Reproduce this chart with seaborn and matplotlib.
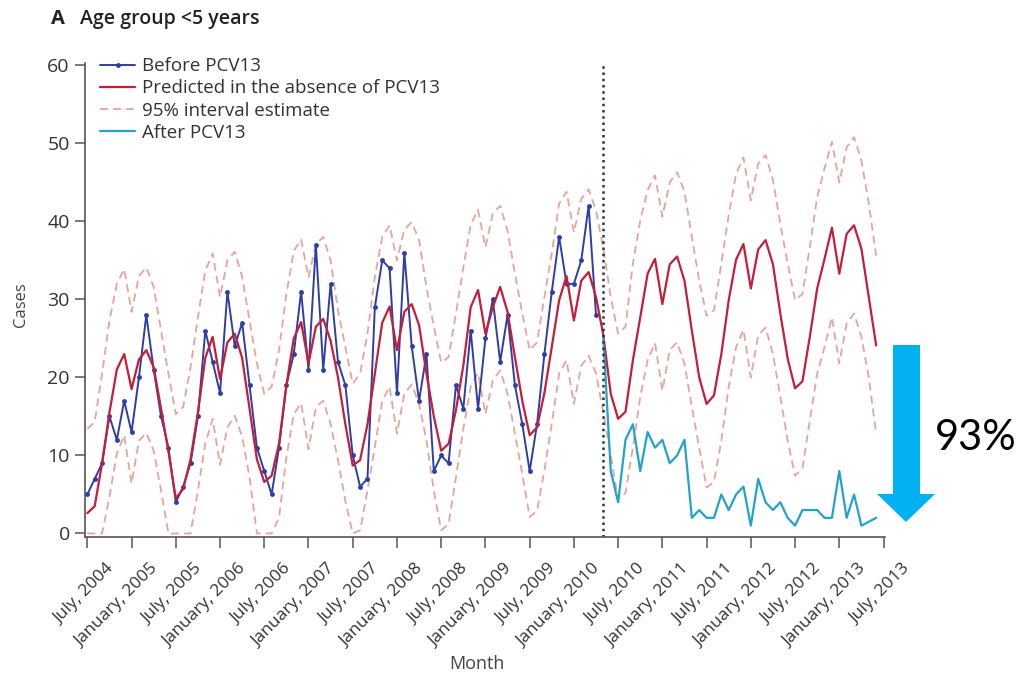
import numpy as np
import pandas as pd
import matplotlib
matplotlib.use('Agg')
import matplotlib.pyplot as plt
import matplotlib.transforms as mtransforms
from matplotlib.patches import Polygon
import seaborn as sns

# monthly counts, month 0 = July 2004
before = [5, 7, 9, 15, 12, 17, 13, 20, 28, 21, 15, 11,
          4, 6, 9, 15, 26, 22, 18, 31, 24, 27, 19, 11,
          8, 5, 11, 19, 23, 31, 21, 37, 21, 32, 22, 19,
          10, 6, 7, 29, 35, 34, 18, 36, 24, 17, 23, 8,
          10, 9, 19, 16, 26, 16, 25, 30, 22, 28, 19, 14,
          8, 14, 23, 31, 38, 32, 32, 35, 42, 28]

after = [25, 8, 4, 12, 14, 8, 13, 11, 12, 9, 10, 12,
         2, 3, 2, 2, 5, 3, 5, 6, 1, 7, 4, 3,
         4, 2, 1, 3, 3, 3, 2, 2, 8, 2, 5, 1, 1.5, 2]

predicted = [2.6, 3.5, 9, 15.5, 21, 23, 18.5, 22.3, 23.5, 21.3, 16, 10.5,
             4.5, 5.7, 9.5, 15.5, 22.5, 25.2, 19.8, 24.5, 25.6, 22.5, 16, 9.5,
             6.6, 7.4, 11.5, 19, 25, 27.1, 21.8, 26.5, 27.5, 24.7, 20, 14,
             8.7, 9.4, 14, 20.5, 27, 29.1, 23.5, 28.4, 29.4, 26.7, 20.5, 15,
             10.6, 11.5, 15.8, 21.5, 29, 31.2, 25.6, 29, 31.6, 28.4, 22.6, 17,
             12.6, 13.6, 18, 23.9, 29.9, 33, 27.3, 32.4, 33.5, 30.3, 25.4, 17.9,
             14.7, 15.6, 22.2, 27.7, 33.3, 35.2, 29.4, 34.5, 35.5, 32.4, 26, 20,
             16.6, 17.7, 23, 29.9, 35.1, 37.1, 31.4, 36.4, 37.6, 34.5, 28.2, 22.4,
             18.6, 19.5, 25.2, 31.4, 35.2, 39.2, 33.3, 38.4, 39.5, 36.5, 30.3, 24.1]

upper = [13.4, 14.3, 20.5, 27.3, 32, 33.9, 28.4, 33, 34.1, 31.6, 26, 20.5,
         15.3, 16.2, 21.3, 27.7, 33.7, 35.9, 30.3, 35, 36.1, 32.9, 27.3, 21.8,
         17.9, 18.8, 23.5, 30.7, 36.2, 37.7, 32.8, 37.1, 38, 35, 28.6, 23.9,
         19.2, 20.5, 25.6, 32.9, 38, 39.5, 35, 39, 39.9, 37.6, 31.6, 26.5,
         21.9, 22.6, 28.2, 34.1, 39.6, 41.5, 36.7, 41, 42, 38.8, 33.3, 28.2,
         23.5, 24.5, 30.3, 35.9, 42.3, 43.8, 38.6, 42.9, 44.1, 41.4, 36.5, 30.3,
         25.6, 26.5, 34.6, 40.1, 44, 45.9, 40.6, 45, 46.3, 43.8, 38, 32.4,
         27.9, 28.6, 34.6, 40.8, 46.1, 48.2, 42.7, 47.4, 48.5, 45.3, 39.7, 34.6,
         29.9, 30.7, 36.7, 43.1, 46.8, 50.2, 45, 49.5, 50.8, 47.8, 42.3, 35.6]

lower = [0, 0, 0, 4.7, 10.2, 12.6, 6.4, 11.9, 12.9, 10.6, 5.5, 0,
         0, 0, 0, 5.5, 11.5, 14.7, 8.8, 13.6, 15.1, 12.4, 7.2, 0,
         0, 0, 2, 9.8, 15.3, 16.7, 10.8, 16.2, 17, 14, 9.4, 4.2,
         0, 0.4, 5.5, 11.1, 17, 18.8, 12.8, 17.9, 19.1, 16.6, 11.9, 5.5,
         0.4, 1.2, 7.2, 13.4, 18.8, 20.6, 15.3, 19.6, 20.9, 17.9, 12.8, 7.6,
         2.1, 2.9, 8.1, 14.1, 20.5, 22.2, 16.6, 21.5, 22.8, 20.5, 15.5, 10,
         4.3, 5.2, 11, 17.5, 22.2, 24.4, 18.3, 23.5, 24.5, 21.8, 16.2, 11,
         5.9, 6.6, 11.9, 18.8, 23.9, 26.1, 20, 25.4, 26.4, 23, 17.5, 11.9,
         7.4, 8.3, 14.5, 20.5, 23.9, 27.7, 21.8, 26.9, 28.2, 25.2, 20, 12.8]

pcv13_start = 70  # May 2010
tick_labels = ['July, 2004', 'January, 2005', 'July, 2005', 'January, 2006',
               'July, 2006', 'January, 2007', 'July, 2007', 'January, 2008',
               'July, 2008', 'January, 2009', 'July, 2009', 'January, 2010',
               'July, 2010', 'January, 2011', 'July, 2011', 'January, 2012',
               'July, 2012', 'January, 2013', 'July, 2013']

sns.set_style('ticks')
plt.rcParams['font.family'] = ['Open Sans', 'DejaVu Sans']
plt.rcParams['lines.dashed_pattern'] = [4.4, 2.8]

df_before = pd.DataFrame({'month': np.arange(len(before)), 'cases': before})
df_after = pd.DataFrame({'month': np.arange(pcv13_start, pcv13_start + len(after)), 'cases': after})
n = len(predicted)
df_pred = pd.DataFrame({'month': np.arange(n), 'cases': predicted})
df_up = pd.DataFrame({'month': np.arange(n), 'cases': upper})
df_lo = pd.DataFrame({'month': np.arange(n), 'cases': lower})

fig = plt.figure(figsize=(10.21, 6.74), dpi=100)
ax = fig.add_axes([0.0833, 0.2033, 0.7835, 0.7032])

ci_col = '#E8A49C'
sns.lineplot(data=df_up, x='month', y='cases', ax=ax, color=ci_col, lw=1.3,
             linestyle='--', label='95% interval estimate')
sns.lineplot(data=df_lo, x='month', y='cases', ax=ax, color=ci_col, lw=1.3,
             linestyle='--', label='_nolegend_')
sns.lineplot(data=df_before, x='month', y='cases', ax=ax, color='#2F3EA6', lw=1.4,
             marker='o', markersize=3.5, markeredgewidth=0, label='Before PCV13')
sns.lineplot(data=df_pred, x='month', y='cases', ax=ax, color='#C41E3A', lw=1.6,
             label='Predicted in the absence of PCV13')
sns.lineplot(data=df_after, x='month', y='cases', ax=ax, color='#22A3CC', lw=1.6,
             label='After PCV13')

ax.axvline(pcv13_start, color='#333333', lw=1.8, linestyle=(0, (1.0, 1.5)))

ax.set_xlim(-0.31, 108.2)
ax.set_ylim(-0.45, 60.3)
ax.set_yticks(range(0, 61, 10))
ax.set_xticks(range(0, 109, 6))
ax.tick_params(axis='x', length=8, width=1.1, pad=13, color='#555555')
ax.tick_params(axis='y', length=7, width=1.1, pad=4, labelsize=14,
               color='#555555', labelcolor='#333333')
ax.set_xticklabels(tick_labels, rotation=45, ha='right', va='center',
                   rotation_mode='anchor', fontsize=12.5, color='#333333')
offset = mtransforms.ScaledTranslation(0.24, 0, fig.dpi_scale_trans)
for lab in ax.get_xticklabels():
    lab.set_transform(lab.get_transform() + offset)
sns.despine(ax=ax)
for s in ['left', 'bottom']:
    ax.spines[s].set_color('#555555')
    ax.spines[s].set_linewidth(1.2)

ax.set_xlabel('Month', fontsize=13, color='#444444', va='top')
ax.xaxis.set_label_coords(0.49, -0.25)
ax.set_ylabel('Cases', fontsize=12, color='#444444')
ax.yaxis.set_label_coords(-0.07, 0.49)

handles, labels = ax.get_legend_handles_labels()
order = ['Before PCV13', 'Predicted in the absence of PCV13',
         '95% interval estimate', 'After PCV13']
hmap = dict(zip(labels, handles))
ax.legend([hmap[l] for l in order], order, loc='upper left',
          bbox_to_anchor=(0.019, 1.012), frameon=False, fontsize=13.5,
          handlelength=1.85, handletextpad=0.4, labelspacing=0.22,
          borderpad=0, borderaxespad=0, labelcolor='#333333')

fig.text(51 / 1021, 1 - 19 / 674, 'A', fontsize=14.5, weight='bold',
         va='center', color='#222222')
fig.text(80 / 1021, 1 - 19 / 674, 'Age group <5 years', fontsize=14,
         weight='semibold', va='center', color='#222222')

# big reduction arrow outside the axes
W, H = 1021, 674
arrow_px = [(893, 345), (920, 345), (920, 494), (935, 494), (906, 522),
            (877, 494), (893, 494)]
arrow = Polygon([(x / W, 1 - y / H) for x, y in arrow_px], closed=True,
                transform=fig.transFigure, facecolor='#00B0F0', edgecolor='none')
fig.add_artist(arrow)
fig.text(976 / W, 1 - 438 / H, '93%', fontsize=30, family=['Lato', 'DejaVu Sans'],
         ha='center', va='center', color='black')

fig.savefig('out.png', dpi=100)
